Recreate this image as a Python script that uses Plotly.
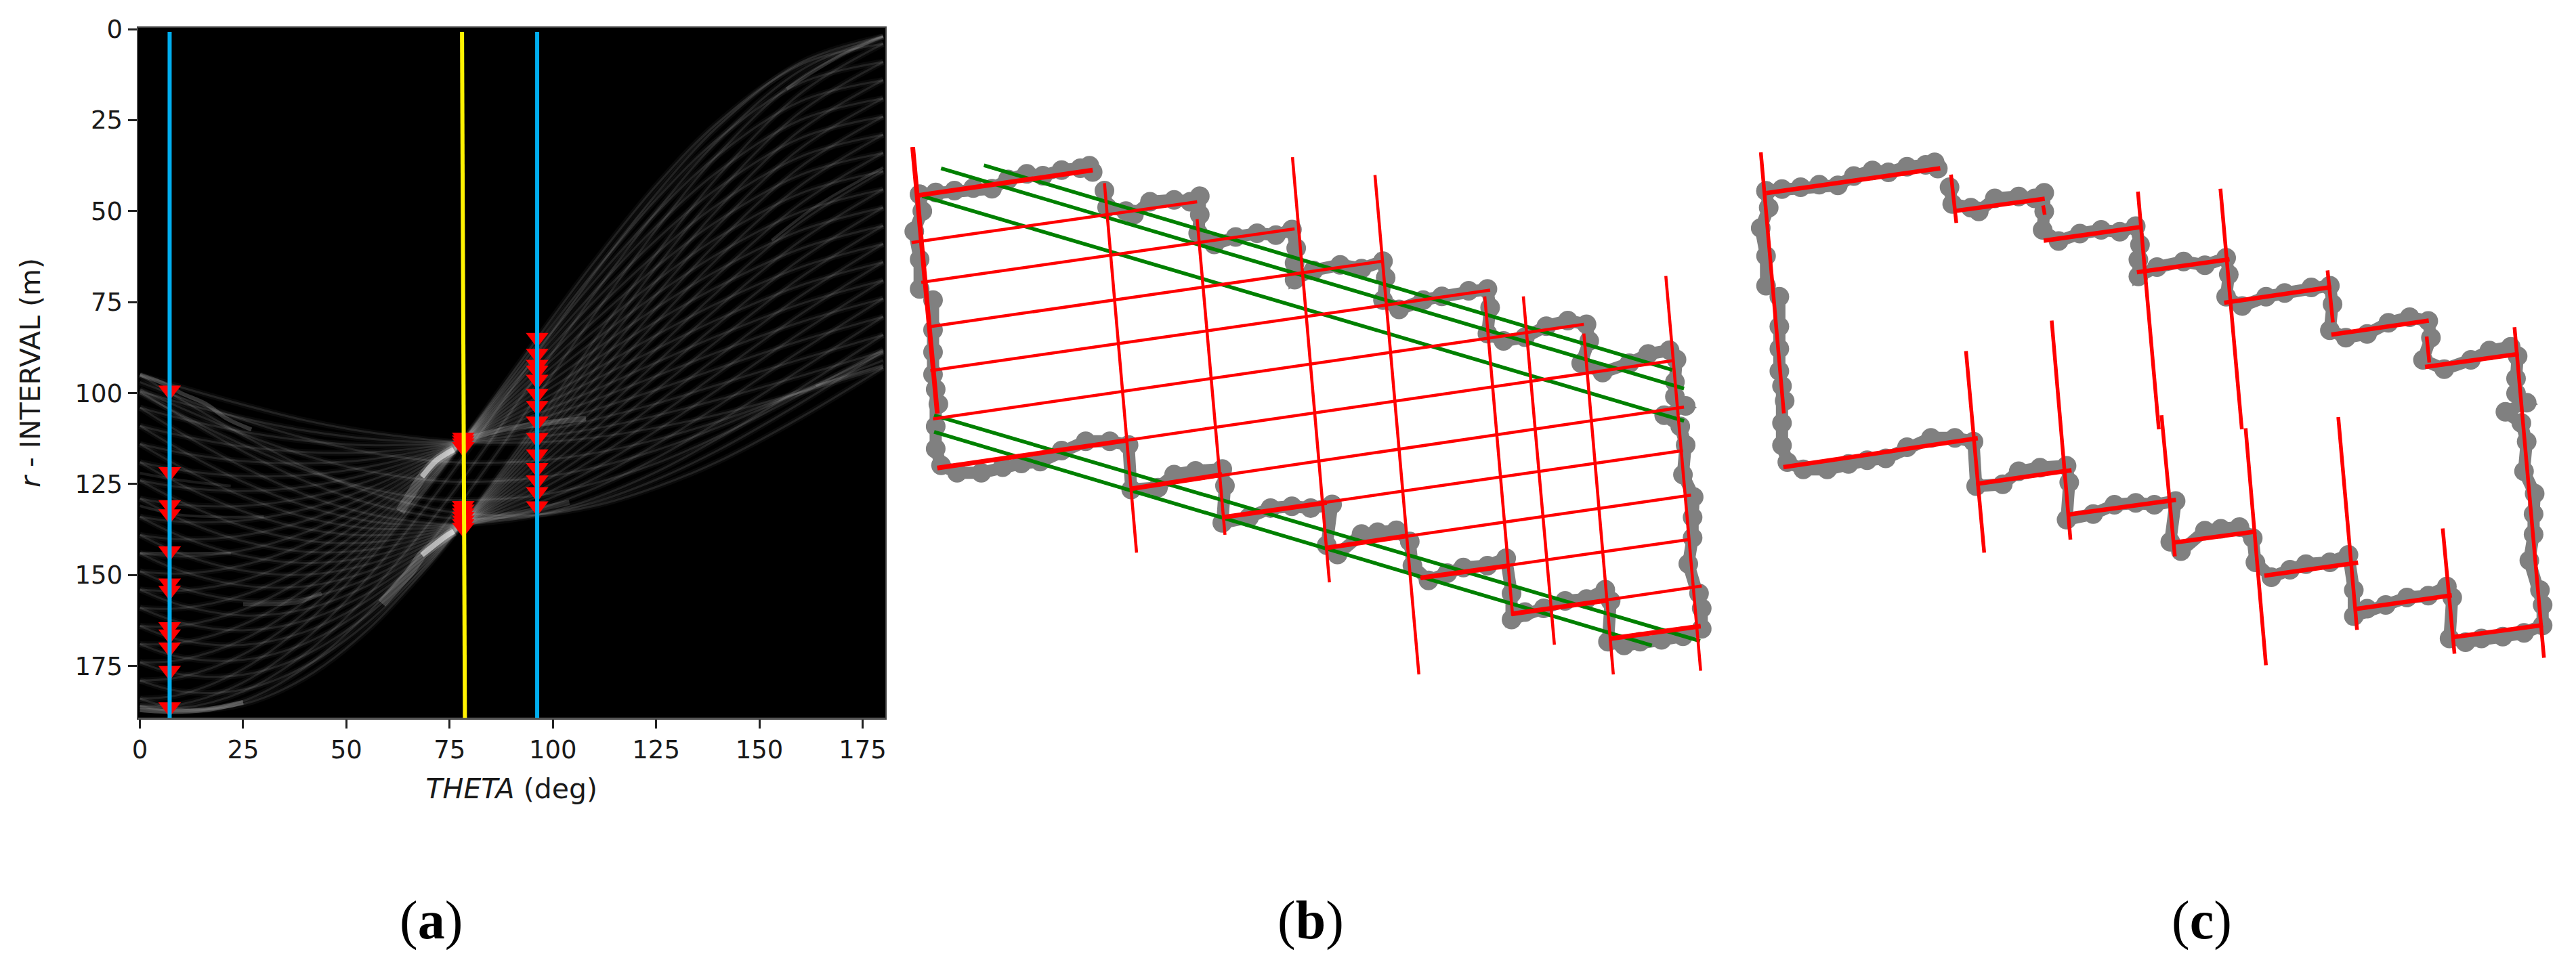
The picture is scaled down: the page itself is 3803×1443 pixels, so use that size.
import plotly.graph_objects as go

# page has 8px body margin, so the figure is window minus 16
W = 3787
H = 1427

theta_samples = [0, 10, 25, 40, 55, 70, 78, 96, 110, 125, 140, 160, 180]

upper_curves = [
    [95, 98.4, 103.2, 107.5, 110.7, 112.8, 113.5, 113.5, 112.2, 109.5, 105.9, 99.8, 93],
    [99.5, 102.7, 106.9, 110.3, 112.5, 113.5, 113.5, 112.1, 109.8, 106.2, 101.8, 95.3, 88.5],
    [104, 107, 110.6, 113.1, 114.3, 114.1, 113.5, 110.7, 107.3, 102.9, 97.7, 90.7, 84],
    [109, 111.7, 114.7, 116.2, 116.3, 114.8, 113.5, 109.1, 104.6, 99.1, 93.2, 85.6, 79],
    [114, 116.4, 118.7, 119.3, 118.3, 115.5, 113.5, 107.4, 101.9, 95.3, 88.7, 80.5, 74],
    [119, 121.2, 122.8, 122.5, 120.3, 116.3, 113.5, 105.8, 99.2, 91.6, 84.2, 75.5, 69],
    [124, 125.9, 126.9, 125.7, 122.3, 117, 113.4, 104.2, 96.4, 87.9, 79.7, 70.4, 64],
    [129, 130.7, 131, 128.8, 124.3, 117.7, 113.4, 102.7, 93.7, 84.1, 75.2, 65.4, 59],
    [134, 135.4, 135, 131.9, 126.3, 118.4, 113.4, 101.1, 91, 80.3, 70.7, 60.3, 54],
    [139, 140.2, 139.1, 135.1, 128.3, 119.1, 113.5, 99.6, 88.3, 76.6, 66.2, 55.3, 49],
    [144, 144.9, 143.2, 138.3, 130.3, 119.8, 113.5, 98, 85.6, 72.9, 61.7, 50.2, 44],
    [149, 149.6, 147.3, 141.5, 132.3, 120.5, 113.5, 96.4, 82.9, 69.2, 57.2, 45.1, 39],
    [154, 154.3, 151.4, 144.6, 134.2, 121.2, 113.4, 94.8, 80.2, 65.4, 52.6, 40, 34],
    [159, 159.1, 155.5, 147.7, 136.3, 121.9, 113.5, 93.2, 77.5, 61.7, 48.1, 35, 29],
    [164, 163.9, 159.5, 150.8, 138.3, 122.6, 113.5, 91.6, 74.8, 57.9, 43.6, 29.9, 24],
    [169, 168.6, 163.6, 154, 140.3, 123.4, 113.5, 90.1, 72.1, 54.2, 39.1, 24.9, 19],
    [174, 173.3, 167.7, 157.2, 142.3, 124.1, 113.4, 88.5, 69.3, 50.5, 34.6, 19.8, 14],
    [179, 178, 171.8, 160.3, 144.4, 124.9, 113.5, 86.9, 66.7, 46.8, 30.1, 14.8, 9],
    [184, 182.8, 175.8, 163.4, 146.4, 125.6, 113.5, 85.3, 64, 43, 25.6, 9.7, 4],
]
lower_curves = [
    [95, 101.8, 111.6, 120.4, 127, 131.6, 133, 133.4, 131, 125.8, 118.8, 106.7, 93],
    [99.5, 106.4, 116, 124.2, 130.1, 133.7, 134.5, 133.5, 130, 123.8, 115.7, 102.7, 88.5],
    [104, 111, 120.3, 127.9, 133.1, 135.7, 136, 133.6, 128.9, 121.7, 112.5, 98.6, 84],
    [109, 115.7, 124.4, 131, 135.1, 136.4, 136, 132, 126.2, 117.9, 108, 93.5, 79],
    [114, 120.4, 128.4, 134.1, 137.1, 137.1, 136, 130.3, 123.5, 114.1, 103.5, 88.4, 74],
    [119, 125.2, 132.5, 137.3, 139.1, 137.9, 136, 128.7, 120.8, 110.4, 99, 83.4, 69],
    [124, 129.9, 136.6, 140.5, 141.1, 138.6, 135.9, 127.1, 118, 106.7, 94.5, 78.3, 64],
    [129, 134.7, 140.7, 143.6, 143.1, 139.3, 135.9, 125.6, 115.3, 102.9, 90, 73.3, 59],
    [134, 139.4, 144.7, 146.7, 145.1, 140, 135.9, 124, 112.6, 99.1, 85.5, 68.2, 54],
    [139, 144.2, 148.8, 149.9, 147.1, 140.7, 136, 122.5, 109.9, 95.4, 81, 63.2, 49],
    [144, 148.9, 152.9, 153.1, 149.1, 141.4, 136, 120.9, 107.2, 91.7, 76.5, 58.1, 44],
    [149, 153.6, 157, 156.3, 151.1, 142.1, 136, 119.3, 104.5, 88, 72, 53, 39],
    [154, 158.3, 161.1, 159.4, 153, 142.8, 135.9, 117.7, 101.8, 84.2, 67.4, 47.9, 34],
    [159, 163.1, 165.2, 162.5, 155.1, 143.5, 136, 116.1, 99.1, 80.5, 62.9, 42.9, 29],
    [164, 167.9, 169.2, 165.6, 157.1, 144.2, 136, 114.5, 96.4, 76.7, 58.4, 37.8, 24],
    [169, 172.6, 173.3, 168.8, 159.1, 145, 136, 113, 93.7, 73, 53.9, 32.7, 19],
    [174, 177.3, 177.4, 172, 161.1, 145.7, 135.9, 111.4, 90.9, 69.3, 49.4, 27.7, 14],
    [179, 182, 181.5, 175.1, 163.2, 146.5, 136, 109.8, 88.2, 65.5, 44.9, 22.7, 9],
    [184, 186.8, 185.5, 178.2, 165.2, 147.2, 136, 108.2, 85.6, 61.8, 40.4, 17.6, 4],
]
side_curves = [
    [97, 101.3, 107.3, 112.4, 116.2, 118.5, 119.1, 118.6, 116.5, 112.8, 107.8, 99.7, 91],
    [99, 104.1, 111.2, 117.1, 121.4, 123.9, 124.4, 123.3, 120.5, 115.7, 109.4, 99.6, 89],
    [100, 106, 114.2, 121.1, 126.1, 129, 129.4, 128.2, 124.8, 119.3, 111.9, 100.4, 88],
    [186, 185.5, 179.5, 167.7, 150.9, 130.2, 118, 89.3, 67.2, 45.3, 26.7, 9.2, 2],
    [186, 186.5, 182, 171.6, 155.8, 135.8, 123.9, 95.2, 72.8, 50.2, 30.6, 11.3, 2],
    [186, 187.5, 184.6, 175.4, 160.7, 141.5, 129.7, 101.2, 78.5, 55.1, 34.4, 13.3, 2],
]

# brighter streaks seen in the image
band_upper_theta = [63, 65.5, 68.3, 71.7, 76]
band_upper_r = [132.5, 128, 123, 118.6, 115.5]
core_upper_theta = [68.3, 71.7, 74, 76]
core_upper_r = [123, 118.6, 116.8, 115.5]
band_lower_theta = [58.6, 62.6, 65.5, 68.3, 71, 76]
band_lower_r = [157.8, 152.7, 149, 144.5, 142, 138]
core_lower_theta = [68.3, 71, 74.5, 76]
core_lower_r = [144.5, 142, 139, 138]
streak_right_a_theta = [78, 88, 100, 108]
streak_right_a_r = [113, 110, 108, 107]
streak_right_b_theta = [78, 87, 96, 104]
streak_right_b_r = [136, 134, 132, 130]
streak_top_theta = [0, 5, 10, 16, 21, 27]
streak_top_r = [95, 97, 100, 103, 107, 110]
streak_foot_theta = [0, 8, 16, 25]
streak_foot_r = [187, 187.5, 187, 185]
streak_mid_theta = [25, 32, 38, 44]
streak_mid_r = [158, 158, 157.5, 155]
streak_left_a_theta = [0, 10, 22]
streak_left_a_r = [122, 124, 125.5]
streak_left_b_theta = [0, 10, 30]
streak_left_b_r = [131, 133.5, 134]
streak_left_c_theta = [0, 10, 22]
streak_left_c_r = [144, 144, 144]
streak_far_a_theta = [153, 163.7, 180]
streak_far_a_r = [58, 48.7, 38]
streak_far_b_theta = [163.7, 180]
streak_far_b_r = [98, 92.4]
streak_far_c_theta = [156.6, 170, 180]
streak_far_c_r = [16.4, 7, 2]

peaks_left_r = [99.3, 121.7, 130.8, 133.3, 143.5, 152.3, 154.3, 164.3, 166.3, 169.9, 176.3, 186.3]
peaks_mid_r = [112.2, 113, 113.8, 114.8, 131, 132, 133, 134, 135, 136, 137]
peaks_right_r = [84.8, 89.2, 92.2, 93.8, 96.3, 100.2, 103.5, 107.8, 112.3, 116.8, 120.6, 124, 127.2, 131.1]

blue_left_x = [7.2, 7.2]
blue_right_x = [96.2, 96.2]
yellow_x = [78.0, 78.7]
line_r = [0.7, 189.3]

x_ticks = [0, 25, 50, 75, 100, 125, 150, 175]
y_ticks = [0, 25, 50, 75, 100, 125, 150, 175]

# --- panel (b): building outline and fitted lines ---
gray_x = [35, 65, 100, 135, 170, 200, 235, 265, 300, 335, 352, 358, None,
          380, 385, 420, 435, 465, 510, 540, 558, 558, 555, 585, 625, 665, 700, 730, 738, 735, 735,
          770, 820, 860, 900, 905, 900, 930, 975, 1010, 1060, 1095, 1100, 1095, 1125, 1165, 1205,
          1245, 1280, 1285, 1270, 1310, 1360, 1395, 1435, 1448, 1445, 1445, 1465, 1425, 1455, 1465,
          1460, 1480, 1478, 1478, 1470, 1490, 1495, 1495, 1460, 1420, 1380, 1350, 1320, 1325, 1315,
          1280, 1240, 1200, 1165, 1140, 1140, 1130, 1095, 1050, 1020, 985, 955, 950, 925, 890, 860,
          815, 795, 805, 765, 730, 690, 650, 600, 605, 600, 550, 510, 480, 430, 425, 390, 345, 300,
          260, 225, 190, 150, 105, 75, 65, 65, 70, 65, 60, 60, 60, 60, None,
          35, 35, 25, 40, 35]
gray_y = [195, 190, 185, 178, 180, 155, 140, 145, 130, 125, 118, 135, None,
          185, 230, 240, 250, 215, 210, 215, 200, 250, 300, 330, 310, 300, 305, 290, 340, 380, 425,
          400, 385, 395, 375, 420, 480, 505, 480, 470, 455, 450, 500, 570, 590, 580, 550,
          535, 545, 590, 650, 675, 650, 625, 615, 640, 700, 740, 765, 790, 820, 870,
          950, 1010, 1065, 1120, 1190, 1270, 1310, 1365, 1385, 1395, 1400, 1410, 1400, 1290, 1260,
          1285, 1290, 1310, 1320, 1340, 1270, 1175, 1195, 1200, 1215, 1235, 1195, 1130, 1100, 1105, 1110,
          1165, 1140, 1030, 1040, 1035, 1040, 1065, 1080, 980, 935, 940, 950, 985, 990, 870, 860, 860, 885,
          915, 920, 930, 945, 945, 925, 880, 820, 760, 720, 680, 620, 560, 480, None,
          450, 370, 295, 240, 195]

b_steep_x = [22, 68, None, 380, 440, None, 553, 605, None, 731, 800, None, 885, 967, None,
             1090, 1142, None, 1162, 1220, None, 1275, 1330, None, 1428, 1493]
b_steep_y = [68, 785, None, 165, 1160, None, 262, 1112, None, 95, 1240, None, 143, 1488, None,
             470, 1330, None, 470, 1408, None, 570, 1488, None, 415, 1478]
b_flat_x = [32, 358, None, 20, 553, None, 38, 735, None, 52, 900, None, 55, 1100, None,
            60, 1275, None, 68, 1440, None, 430, 1462, None, 600, 1460, None,
            795, 1475, None, 970, 1470, None, 1140, 1495, None, 1322, 1493]
b_flat_y = [198, 130, None, 325, 215, None, 432, 288, None, 552, 375, None, 670, 453, None,
            800, 545, None, 932, 643, None, 988, 768, None, 1065, 885, None,
            1147, 1005, None, 1228, 1125, None, 1325, 1250, None, 1392, 1358]
b_thick_x = [32, 358, None, 68, 420, None, 430, 600, None, 600, 795, None, 795, 945, None,
             970, 1135, None, 1140, 1320, None, 1322, 1493, None, 22, 68]
b_thick_y = [198, 130, None, 932, 858, None, 988, 950, None, 1065, 1025, None, 1147, 1115, None,
             1228, 1195, None, 1325, 1288, None, 1392, 1358, None, 68, 785]
green_x = [155, 1440, None, 75, 1462, None, 40, 1462, None, 62, 1492, None, 62, 1402]
green_y = [117, 668, None, 125, 718, None, 200, 805, None, 790, 1398, None, 835, 1410]

# --- panel (c): same outline, only the segments kept ---
c_steep_x = [50, 93, None, 405, 415, None, 577, 580, None, 754, 793, None, 908, 948, None,
             1108, 1118, None, 1293, 1298, None, 1457, 1512, None, 433, 467, None, 593, 628, None,
             798, 823, None, 955, 993, None, 1128, 1163, None, 1323, 1345]
c_steep_y = [82, 785, None, 142, 272, None, 225, 250, None, 188, 828, None, 180, 828, None,
             400, 540, None, 578, 648, None, 553, 1443, None, 617, 1160, None, 535, 1125, None,
             790, 1170, None, 825, 1463, None, 795, 1368, None, 1095, 1432]
c_flat_x = [60, 385, None, 412, 580, None, 578, 760, None, 752, 925, None, 915, 1115, None,
            1115, 1297, None, 1290, 1465, None, 92, 455, None, 452, 630, None, 622, 825, None,
            820, 975, None, 990, 1165, None, 1160, 1340, None, 1340, 1510]
c_flat_y = [192, 125, None, 240, 207, None, 320, 283, None, 405, 370, None, 487, 445, None,
            573, 535, None, 660, 625, None, 930, 852, None, 975, 938, None, 1058, 1018, None,
            1133, 1103, None, 1222, 1187, None, 1312, 1275, None, 1388, 1355]

captions = ["(<b>a</b>)", "(<b>b</b>)", "(<b>c</b>)"]
caption_px = [636, 1935, 3250]


def dom_x(a, b):
    return [(a - 8) / W, (b - 8) / W]


def dom_y(top, bottom):
    return [1 - (bottom - 8) / H, 1 - (top - 8) / H]


fig = go.Figure()

# panel a
for curve in upper_curves + lower_curves + side_curves:
    fig.add_trace(go.Scatter(x=theta_samples, y=curve, mode="lines", xaxis="x", yaxis="y",
                             line=dict(color="rgba(255,255,255,0.04)", width=9, shape="spline")))
    fig.add_trace(go.Scatter(x=theta_samples, y=curve, mode="lines", xaxis="x", yaxis="y",
                             line=dict(color="rgba(255,255,255,0.1)", width=3, shape="spline")))

streaks = [
    (band_upper_theta, band_upper_r, 0.2, 14),
    (core_upper_theta, core_upper_r, 0.55, 8),
    (band_lower_theta, band_lower_r, 0.2, 14),
    (core_lower_theta, core_lower_r, 0.55, 8),
    (streak_right_a_theta, streak_right_a_r, 0.18, 8),
    (streak_right_b_theta, streak_right_b_r, 0.14, 8),
    (streak_top_theta, streak_top_r, 0.2, 6),
    (streak_foot_theta, streak_foot_r, 0.25, 7),
    (streak_mid_theta, streak_mid_r, 0.15, 6),
    (streak_left_a_theta, streak_left_a_r, 0.1, 4),
    (streak_left_b_theta, streak_left_b_r, 0.12, 4),
    (streak_left_c_theta, streak_left_c_r, 0.12, 4),
    (streak_far_a_theta, streak_far_a_r, 0.14, 4),
    (streak_far_b_theta, streak_far_b_r, 0.14, 4),
    (streak_far_c_theta, streak_far_c_r, 0.14, 5),
]
for sx, sy, alpha, lw in streaks:
    fig.add_trace(go.Scatter(x=sx, y=sy, mode="lines", xaxis="x", yaxis="y",
                             line=dict(color=f"rgba(255,255,255,{alpha})", width=lw, shape="spline")))

for xval, rvals in [(7.2, peaks_left_r), (78.3, peaks_mid_r), (96.2, peaks_right_r)]:
    fig.add_trace(go.Scatter(x=[xval] * len(rvals), y=rvals, mode="markers", xaxis="x", yaxis="y",
                             marker=dict(symbol="triangle-down", size=29, color="#ff0000")))

fig.add_trace(go.Scatter(x=blue_left_x, y=line_r, mode="lines", xaxis="x", yaxis="y",
                         line=dict(color="#00aeef", width=6)))
fig.add_trace(go.Scatter(x=blue_right_x, y=line_r, mode="lines", xaxis="x", yaxis="y",
                         line=dict(color="#00aeef", width=6)))
fig.add_trace(go.Scatter(x=yellow_x, y=line_r, mode="lines", xaxis="x", yaxis="y",
                         line=dict(color="#fff200", width=6)))

# panel b
fig.add_trace(go.Scatter(x=gray_x, y=gray_y, mode="lines+markers", xaxis="x2", yaxis="y2",
                         line=dict(color="#808080", width=18),
                         marker=dict(color="#808080", size=29)))
fig.add_trace(go.Scatter(x=green_x, y=green_y, mode="lines", xaxis="x2", yaxis="y2",
                         line=dict(color="#008000", width=5.5)))
fig.add_trace(go.Scatter(x=b_steep_x, y=b_steep_y, mode="lines", xaxis="x2", yaxis="y2",
                         line=dict(color="#ff0000", width=4.5)))
fig.add_trace(go.Scatter(x=b_flat_x, y=b_flat_y, mode="lines", xaxis="x2", yaxis="y2",
                         line=dict(color="#ff0000", width=4.5)))
fig.add_trace(go.Scatter(x=b_thick_x, y=b_thick_y, mode="lines", xaxis="x2", yaxis="y2",
                         line=dict(color="#ff0000", width=7)))

# panel c, the outline sits slightly shifted from panel b
gray_c_x = [None if v is None else v * 0.993 + 25 for v in gray_x]
gray_c_y = [None if v is None else v - 9 for v in gray_y]
fig.add_trace(go.Scatter(x=gray_c_x, y=gray_c_y, mode="lines+markers", xaxis="x3", yaxis="y3",
                         line=dict(color="#808080", width=18),
                         marker=dict(color="#808080", size=29)))
fig.add_trace(go.Scatter(x=c_steep_x, y=c_steep_y, mode="lines", xaxis="x3", yaxis="y3",
                         line=dict(color="#ff0000", width=5.5)))
fig.add_trace(go.Scatter(x=c_flat_x, y=c_flat_y, mode="lines", xaxis="x3", yaxis="y3",
                         line=dict(color="#ff0000", width=6.5)))

tick_font = dict(family="DejaVu Sans", size=37, color="#1a1a1a")
title_font = dict(family="DejaVu Sans", size=41, color="#1a1a1a")

fig.update_layout(
    width=W,
    height=H,
    margin=dict(l=0, r=0, t=0, b=0),
    paper_bgcolor="white",
    plot_bgcolor="white",
    showlegend=False,
    hovermode=False,
    xaxis=dict(domain=dom_x(203.5, 1307), range=[-0.5, 180.5], tickvals=x_ticks, ticks="outside",
               ticklen=13, tickwidth=2.5, tickcolor="#222222", tickfont=tick_font, showgrid=False,
               zeroline=False, showline=True, linecolor="#444444", linewidth=2, mirror=True,
               automargin=False,
               title=dict(text="<i>THETA</i> (deg)", font=title_font, standoff=22)),
    yaxis=dict(domain=dom_y(40.5, 1060.5), range=[189.3, -0.5], tickvals=y_ticks, ticks="outside",
               ticklen=13, tickwidth=2.5, tickcolor="#222222", tickfont=tick_font, showgrid=False,
               zeroline=False, showline=True, linecolor="#444444", linewidth=2, mirror=True,
               automargin=False,
               title=dict(text="<i>r</i> - INTERVAL (m)", font=title_font, standoff=38)),
    xaxis2=dict(domain=dom_x(1330, 2570), anchor="y2", visible=False, range=[0, 1568], fixedrange=True, automargin=False),
    yaxis2=dict(domain=dom_y(180, 1040), anchor="x2", visible=False, range=[1568, 0], fixedrange=True, automargin=False),
    xaxis3=dict(domain=dom_x(2560, 3795), anchor="y3", visible=False, range=[0, 1561.7], fixedrange=True, automargin=False),
    yaxis3=dict(domain=dom_y(180, 1040), anchor="x3", visible=False, range=[1568, 0], fixedrange=True, automargin=False),
)

# black image area of panel a
fig.add_shape(type="rect", xref="x domain", yref="y domain", x0=0, x1=1, y0=0, y1=1,
              fillcolor="black", line_width=0, layer="below")

for text, px in zip(captions, caption_px):
    fig.add_annotation(text=text, xref="paper", yref="paper", x=(px - 8) / W, y=1 - (1359 - 8) / H,
                       showarrow=False, xanchor="center", yanchor="middle",
                       font=dict(family="Liberation Serif", size=80, color="black"))

fig.write_html("out.html")
